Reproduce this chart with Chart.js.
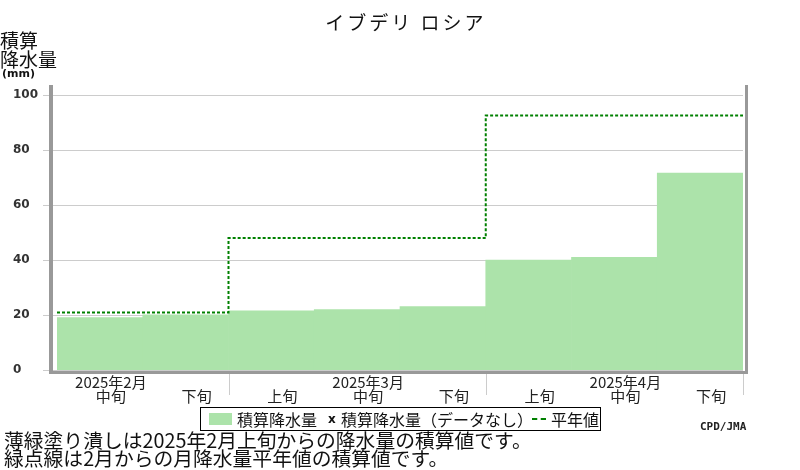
<!DOCTYPE html>
<html lang="ja">
<head>
<meta charset="utf-8">
<script src="https://cdn.jsdelivr.net/npm/chart.js@4/dist/chart.umd.min.js"></script>
<style>
  body { margin: 0; background: #fff; }
  #wrap { position: relative; width: 800px; height: 470px; overflow: hidden; font-family: "Noto Sans CJK JP", sans-serif; color: #111; }
  #wrap canvas { position: absolute; left: 0; top: 0; }
  .abs { position: absolute; white-space: nowrap; }
  #title { left: 0; width: 812px; top: 10px; text-align: center; font-size: 19px; line-height: 24px; letter-spacing: 3px; }
  #ylab { left: 0; top: 30px; font-size: 19px; line-height: 19px; }
  #ylab small { display: block; font-family: "DejaVu Sans", sans-serif; font-weight: bold; font-size: 11px; line-height: 12px; margin-left: 2px; }
  #legend { left: 200px; top: 407px; width: 399px; height: 22px; border: 1px solid #000; font-size: 16px; line-height: 22px; }
  #legend span { position: absolute; top: 0; }
  #notes { left: 4px; top: 431px; font-size: 19.8px; line-height: 18px; }
  #credit { left: 700px; top: 420px; font-family: "DejaVu Sans Mono", monospace; font-weight: bold; font-size: 11px; color: #222; }
</style>
</head>
<body>
<div id="wrap">
  <canvas id="chart" width="800" height="470"></canvas>
  <div id="title" class="abs">イブデリ ロシア</div>
  <div id="ylab" class="abs">積算<br>降水量<small>(mm)</small></div>
  <div id="legend" class="abs">
    <span style="left:8px;top:5px;width:23px;height:12px;background:#ace3aa"></span>
    <span style="left:36px">積算降水量</span>
    <span style="left:127px;font-family:'DejaVu Sans',sans-serif;font-weight:bold;font-size:12px">x</span>
    <span style="left:140px">積算降水量（データなし）</span>
    <span style="left:331px;top:10px;width:14px;height:0;border-top:2px dashed #008000"></span>
    <span style="left:350px">平年値</span>
  </div>
  <div id="credit" class="abs">CPD/JMA</div>
  <div id="notes" class="abs">薄緑塗り潰しは2025年2月上旬からの降水量の積算値です。<br>緑点線は2月からの月降水量平年値の積算値です。</div>
</div>
<script>
// 旬ごとのラベル
const decadeLabels = ['中旬', '下旬', '上旬', '中旬', '下旬', '上旬', '中旬', '下旬'];
const monthLabels = ['2025年2月', '', '', '2025年3月', '', '', '2025年4月', ''];

// 積算降水量 (mm)
const accumPrecip = [19.0, 20.0, 21.5, 21.9, 23.0, 39.9, 40.9, 71.5];

// 平年値の積算 (月の切れ目で段差)
const normalPos = [0, 2, 5, 8];
const normalAccum = [20.9, 47.9, 92.4, 92.4];

const yTicks = [0, 20, 40, 60, 80, 100];

const FRAME = '#999';
const GRID = '#ccc';

// 枠線・目盛線・月区切りを描く
const framePlugin = {
  id: 'frame',
  beforeDatasetsDraw(chart) {
    const { ctx, chartArea: a, scales } = chart;
    ctx.save();
    ctx.strokeStyle = GRID;
    ctx.lineWidth = 1;
    yTicks.forEach(v => {
      const y = Math.round(scales.y.getPixelForValue(v)) + 0.5;
      ctx.beginPath();
      ctx.moveTo(43, y);
      ctx.lineTo(a.right, y);
      ctx.stroke();
    });
    ctx.restore();
  },
  afterDraw(chart) {
    const { ctx, chartArea: a, scales } = chart;
    ctx.save();
    ctx.fillStyle = FRAME;
    ctx.fillRect(49, a.top, 4, a.bottom - a.top + 4);
    ctx.fillRect(49, a.bottom + 1, a.right + 5 - 49, 3);
    ctx.fillRect(a.right + 2, a.top, 3, a.bottom - a.top + 4);
    // 月の区切り
    ctx.strokeStyle = GRID;
    ctx.lineWidth = 1;
    [2, 5, 8].forEach(p => {
      const x = Math.round(scales.xn.getPixelForValue(p)) + 0.5;
      ctx.beginPath();
      ctx.moveTo(x, a.bottom + 4);
      ctx.lineTo(x, a.bottom + 25);
      ctx.stroke();
    });
    ctx.restore();
  }
};

const ctx = document.getElementById('chart').getContext('2d');
new Chart(ctx, {
  type: 'bar',
  data: {
    labels: decadeLabels.map((d, i) => [monthLabels[i], d]),
    datasets: [
      {
        type: 'bar',
        label: '積算降水量',
        data: accumPrecip,
        backgroundColor: '#ace3aa',
        borderWidth: 0,
        grouped: false,
        barPercentage: 1,
        categoryPercentage: 1,
        order: 2
      },
      {
        type: 'line',
        label: '平年値',
        data: normalPos.map((p, i) => ({ x: p, y: normalAccum[i] })),
        xAxisID: 'xn',
        stepped: 'before',
        borderColor: '#008000',
        borderWidth: 2,
        borderDash: [3, 2],
        pointRadius: 0,
        fill: false,
        clip: false,
        order: 1
      }
    ]
  },
  options: {
    responsive: false,
    animation: false,
    layout: { padding: { left: 13, right: 57, top: 85, bottom: 60 } },
    plugins: { legend: { display: false }, title: { display: false }, tooltip: { enabled: false } },
    scales: {
      x: {
        type: 'category',
        offset: true,
        grid: { display: false, drawTicks: false },
        border: { display: false },
        afterFit: s => { s.height = 40; },
        ticks: {
          autoSkip: false,
          maxRotation: 0,
          padding: 5,
          labelOffset: 11,
          color: '#222',
          font: { family: '"Noto Sans CJK JP", sans-serif', size: 15, lineHeight: 0.94 }
        }
      },
      xn: {
        type: 'linear',
        display: false,
        offset: false,
        min: 0,
        max: 8
      },
      y: {
        min: 0,
        max: 103.5,
        grid: { display: false, drawTicks: false },
        border: { display: false },
        afterFit: s => { s.width = 44; },
        afterBuildTicks: s => { s.ticks = yTicks.map(v => ({ value: v })); },
        ticks: {
          crossAlign: 'far',
          padding: 0,
          color: '#333',
          font: { family: '"DejaVu Sans", sans-serif', size: 12, weight: 'bold' }
        }
      }
    }
  },
  plugins: [framePlugin]
});
</script>
</body>
</html>
